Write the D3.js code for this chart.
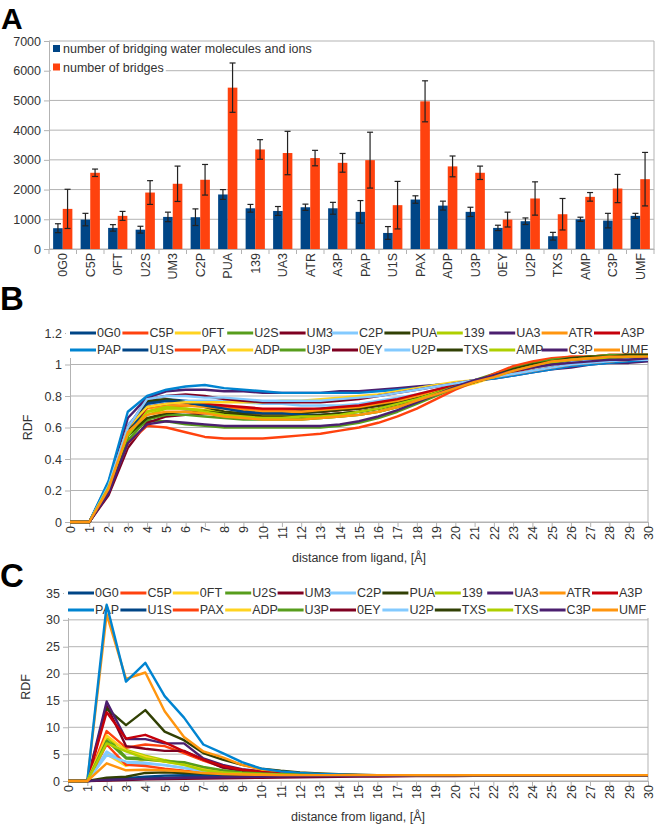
<!DOCTYPE html>
<html>
<head>
<meta charset="utf-8">
<script src="https://d3js.org/d3.v7.min.js"></script>
<style>
  body { margin: 0; background: #fff; }
  svg text { font-family: "Liberation Sans", Arial, sans-serif; fill: #333; }
  .panel-label { font-family: "Liberation Sans", Arial, sans-serif; font-weight: bold; fill: #000; }
</style>
</head>
<body>
<div id="chart"></div>
<script>
// ---- panel A data ----
const categories = ["0G0","C5P","0FT","U2S","UM3","C2P","PUA","139","UA3","ATR","A3P",
                    "PAP","U1S","PAX","ADP","U3P","0EY","U2P","TXS","AMP","C3P","UMF"];
const waterIons    = [700, 990, 710, 650, 1080, 1070, 1835, 1370, 1280, 1405, 1370,
                      1250, 540, 1665, 1460, 1250, 710, 935, 430, 1000, 955, 1115];
const waterIonsErr = [150, 210, 110, 115, 160, 280, 165, 130, 150, 105, 200,
                      380, 215, 125, 150, 155, 90, 110, 130, 70, 245, 85];
const bridges      = [1350, 2565, 1115, 1900, 2195, 2330, 5430, 3350, 3230, 3060, 2900,
                      2990, 1475, 4970, 2780, 2565, 990, 1700, 1170, 1755, 2035, 2350];
const bridgesErr   = [660, 125, 150, 400, 595, 515, 830, 330, 730, 260, 315,
                      940, 800, 690, 350, 225, 250, 560, 530, 145, 475, 900];
const yTicksA = [0, 1000, 2000, 3000, 4000, 5000, 6000, 7000];

// ---- panels B and C data ----
const distance = [0,1,2,3,4,5,6,7,8,9,10,11,12,13,14,15,16,17,18,19,20,21,22,23,24,25,26,27,28,29,30];
const seriesNames  = ["0G0","C5P","0FT","U2S","UM3","C2P","PUA","139","UA3","ATR","A3P",
                      "PAP","U1S","PAX","ADP","U3P","0EY","U2P","TXS","AMP","C3P","UMF"];
// the legend of panel C repeats "TXS" in the 20th slot
const seriesNamesC = ["0G0","C5P","0FT","U2S","UM3","C2P","PUA","139","UA3","ATR","A3P",
                      "PAP","U1S","PAX","ADP","U3P","0EY","U2P","TXS","TXS","C3P","UMF"];
const yTicksB = [0, 0.2, 0.4, 0.6, 0.8, 1, 1.2];
const yTicksC = [0, 5, 10, 15, 20, 25, 30, 35];

// RDF of water around the ligand (panel B), one row per series
const rdfB = [
  [0,0,0.22,0.58,0.76,0.78,0.77,0.75,0.73,0.72,0.71,0.71,0.71,0.72,0.73,0.74,0.76,0.78,0.80,0.83,0.86,0.89,0.92,0.95,0.98,1.00,1.02,1.03,1.04,1.04,1.05], // 0G0
  [0,0,0.20,0.55,0.70,0.73,0.74,0.74,0.73,0.72,0.71,0.71,0.70,0.70,0.71,0.72,0.74,0.76,0.79,0.82,0.86,0.89,0.93,0.97,1.01,1.03,1.05,1.05,1.06,1.06,1.06], // C5P
  [0,0,0.22,0.55,0.70,0.72,0.72,0.71,0.70,0.69,0.68,0.68,0.68,0.68,0.69,0.70,0.72,0.74,0.77,0.81,0.85,0.88,0.92,0.96,0.99,1.02,1.03,1.04,1.05,1.05,1.05], // 0FT
  [0,0,0.20,0.55,0.64,0.64,0.62,0.61,0.60,0.60,0.60,0.60,0.60,0.60,0.61,0.63,0.66,0.70,0.75,0.80,0.85,0.90,0.94,0.98,1.01,1.03,1.04,1.05,1.05,1.05,1.05], // U2S
  [0,0,0.17,0.47,0.63,0.67,0.68,0.69,0.69,0.69,0.69,0.69,0.70,0.70,0.71,0.72,0.74,0.76,0.79,0.82,0.86,0.89,0.92,0.96,0.99,1.01,1.03,1.04,1.04,1.05,1.05], // UM3
  [0,0,0.25,0.62,0.74,0.76,0.77,0.77,0.77,0.76,0.75,0.75,0.74,0.74,0.74,0.75,0.77,0.79,0.81,0.84,0.87,0.89,0.92,0.95,0.98,1.00,1.02,1.03,1.03,1.04,1.04], // C2P
  [0,0,0.20,0.57,0.77,0.78,0.76,0.73,0.70,0.69,0.69,0.69,0.69,0.70,0.71,0.72,0.74,0.76,0.79,0.82,0.86,0.89,0.92,0.96,0.99,1.02,1.04,1.05,1.05,1.06,1.06], // PUA
  [0,0,0.20,0.50,0.68,0.72,0.72,0.71,0.69,0.67,0.66,0.66,0.66,0.66,0.67,0.68,0.70,0.73,0.77,0.81,0.85,0.89,0.93,0.97,1.00,1.03,1.04,1.05,1.05,1.06,1.06], // 139
  [0,0,0.25,0.66,0.79,0.83,0.84,0.84,0.83,0.83,0.82,0.82,0.82,0.82,0.83,0.83,0.84,0.85,0.86,0.87,0.88,0.90,0.91,0.93,0.95,0.97,0.98,1.00,1.01,1.01,1.02], // UA3
  [0,0,0.22,0.60,0.72,0.74,0.74,0.73,0.72,0.71,0.70,0.70,0.70,0.71,0.72,0.73,0.75,0.77,0.80,0.83,0.86,0.89,0.92,0.95,0.98,1.01,1.03,1.04,1.04,1.05,1.05], // ATR
  [0,0,0.19,0.55,0.73,0.75,0.76,0.75,0.74,0.73,0.72,0.72,0.72,0.72,0.73,0.74,0.76,0.78,0.81,0.84,0.87,0.89,0.92,0.95,0.98,1.01,1.03,1.04,1.04,1.05,1.05], // A3P
  [0,0,0.26,0.70,0.80,0.84,0.86,0.87,0.85,0.84,0.83,0.82,0.82,0.82,0.82,0.82,0.83,0.84,0.85,0.87,0.88,0.90,0.91,0.93,0.95,0.97,0.99,1.00,1.01,1.02,1.03], // PAP
  [0,0,0.20,0.55,0.75,0.77,0.76,0.74,0.72,0.70,0.69,0.69,0.68,0.68,0.69,0.70,0.72,0.75,0.78,0.82,0.86,0.89,0.93,0.96,0.99,1.01,1.03,1.04,1.05,1.05,1.05], // U1S
  [0,0,0.20,0.50,0.61,0.60,0.57,0.54,0.53,0.53,0.53,0.54,0.55,0.56,0.58,0.60,0.63,0.67,0.72,0.78,0.84,0.89,0.94,0.99,1.02,1.04,1.05,1.05,1.06,1.06,1.06], // PAX
  [0,0,0.22,0.60,0.73,0.75,0.76,0.76,0.76,0.76,0.76,0.77,0.77,0.78,0.79,0.80,0.81,0.83,0.85,0.87,0.89,0.90,0.92,0.94,0.96,0.98,1.00,1.01,1.02,1.03,1.04], // ADP
  [0,0,0.20,0.52,0.65,0.68,0.68,0.67,0.66,0.65,0.65,0.65,0.65,0.66,0.67,0.68,0.70,0.73,0.77,0.81,0.85,0.89,0.93,0.97,1.00,1.03,1.04,1.05,1.06,1.06,1.06], // U3P
  [0,0,0.20,0.60,0.78,0.80,0.81,0.80,0.78,0.77,0.76,0.76,0.76,0.76,0.77,0.78,0.80,0.82,0.84,0.86,0.88,0.90,0.92,0.94,0.96,0.98,1.00,1.01,1.02,1.03,1.04], // 0EY
  [0,0,0.23,0.60,0.78,0.80,0.80,0.79,0.79,0.78,0.77,0.77,0.77,0.77,0.78,0.79,0.80,0.82,0.84,0.86,0.88,0.90,0.92,0.94,0.96,0.98,1.00,1.01,1.02,1.03,1.03], // U2P
  [0,0,0.20,0.55,0.66,0.69,0.70,0.70,0.69,0.68,0.67,0.67,0.67,0.68,0.69,0.70,0.72,0.75,0.78,0.82,0.86,0.89,0.93,0.97,1.00,1.02,1.04,1.05,1.05,1.06,1.06], // TXS
  [0,0,0.22,0.55,0.70,0.73,0.72,0.70,0.68,0.67,0.66,0.66,0.67,0.67,0.68,0.70,0.72,0.75,0.78,0.82,0.86,0.89,0.92,0.96,0.99,1.01,1.03,1.04,1.04,1.05,1.05], // AMP
  [0,0,0.18,0.50,0.62,0.64,0.63,0.62,0.61,0.61,0.61,0.61,0.61,0.61,0.62,0.64,0.67,0.71,0.76,0.81,0.86,0.90,0.93,0.96,0.98,1.00,1.01,1.02,1.03,1.03,1.04], // C3P
  [0,0,0.21,0.57,0.68,0.70,0.70,0.69,0.67,0.66,0.65,0.65,0.65,0.66,0.67,0.68,0.70,0.73,0.77,0.81,0.85,0.89,0.92,0.96,0.99,1.02,1.03,1.04,1.05,1.05,1.05]  // UMF
];

// RDF of ions around the ligand (panel C), one row per series
const rdfC = [
  [0,0,0.3,0.5,0.8,1.0,1.1,1.1,1.05,1.0,1.0,1.0,1.0,1.0,1.0,1.0,1.0,1.0,1.0,1.0,1.0,1.0,1.0,1.0,1.0,1.0,1.0,1.0,1.0,1.0,1.0], // 0G0
  [0,0,9.3,6.2,6.8,6.5,5.2,3.8,2.6,2.0,1.6,1.4,1.25,1.15,1.1,1.05,1.0,1.0,1.0,1.0,1.0,1.0,1.0,1.0,1.0,1.0,1.0,1.0,1.0,1.0,1.0], // C5P
  [0,0,5.0,2.8,4.0,3.6,3.2,2.4,1.9,1.6,1.4,1.25,1.15,1.1,1.05,1.0,1.0,1.0,1.0,1.0,1.0,1.0,1.0,1.0,1.0,1.0,1.0,1.0,1.0,1.0,1.0], // 0FT
  [0,0,8.2,4.4,4.3,3.7,3.4,2.4,1.9,1.6,1.4,1.25,1.15,1.1,1.05,1.0,1.0,1.0,1.0,1.0,1.0,1.0,1.0,1.0,1.0,1.0,1.0,1.0,1.0,1.0,1.0], // U2S
  [0,0,14.0,6.5,6.0,5.6,5.6,4.0,2.5,1.9,1.5,1.3,1.2,1.1,1.05,1.0,1.0,1.0,1.0,1.0,1.0,1.0,1.0,1.0,1.0,1.0,1.0,1.0,1.0,1.0,1.0], // UM3
  [0,0,5.5,3.2,3.2,3.0,2.5,1.9,1.6,1.4,1.25,1.15,1.1,1.05,1.0,1.0,1.0,1.0,1.0,1.0,1.0,1.0,1.0,1.0,1.0,1.0,1.0,1.0,1.0,1.0,1.0], // C2P
  [0,0,13.5,10.4,13.2,9.2,7.6,5.2,4.0,3.0,2.3,1.9,1.6,1.4,1.25,1.15,1.1,1.05,1.05,1.0,1.0,1.0,1.0,1.0,1.0,1.0,1.0,1.0,1.0,1.0,1.0], // PUA
  [0,0,8.0,5.8,4.7,3.9,3.2,2.2,1.8,1.5,1.3,1.2,1.1,1.05,1.0,1.0,1.0,1.0,1.0,1.0,1.0,1.0,1.0,1.0,1.0,1.0,1.0,1.0,1.0,1.0,1.0], // 139
  [0,0,14.8,7.8,7.8,7.0,7.0,4.2,3.0,2.2,1.8,1.5,1.3,1.2,1.1,1.05,1.0,1.0,1.0,1.0,1.0,1.05,1.05,1.05,1.05,1.05,1.05,1.05,1.05,1.05,1.05], // UA3
  [0,0,31.0,19.0,20.2,13.0,8.2,5.5,4.4,3.0,2.1,1.7,1.4,1.25,1.15,1.1,1.05,1.05,1.05,1.05,1.05,1.05,1.05,1.05,1.05,1.05,1.05,1.05,1.05,1.05,1.05], // ATR
  [0,0,12.8,7.9,8.6,7.2,5.5,4.0,2.8,2.1,1.7,1.4,1.25,1.15,1.1,1.05,1.0,1.0,1.0,1.0,1.0,1.0,1.0,1.0,1.0,1.0,1.0,1.0,1.0,1.0,1.0], // A3P
  [0,0,32.8,18.5,22.0,15.8,11.8,6.8,5.2,3.5,2.3,1.8,1.5,1.3,1.2,1.1,1.05,1.0,1.0,1.0,0.98,0.98,0.98,0.98,0.98,0.99,0.99,0.99,1.0,1.0,1.0], // PAP
  [0,0,0.2,0.3,0.5,0.6,0.7,0.8,0.8,0.85,0.9,0.9,0.95,0.95,0.95,1.0,1.0,1.0,1.0,1.0,1.0,1.0,1.0,1.0,1.0,1.0,1.0,1.0,1.0,1.0,1.0], // U1S
  [0,0,6.8,3.0,2.8,2.3,1.9,1.6,1.4,1.3,1.2,1.1,1.05,1.0,1.0,1.0,1.0,1.0,1.0,1.0,1.0,1.0,1.0,1.0,1.0,1.0,1.0,1.0,1.0,1.0,1.0], // PAX
  [0,0,8.5,5.6,4.5,3.6,3.0,2.3,1.8,1.5,1.3,1.2,1.1,1.05,1.0,1.0,1.0,1.0,1.0,1.0,1.0,1.0,1.0,1.0,1.0,1.0,1.0,1.0,1.0,1.0,1.0], // ADP
  [0,0,7.5,4.2,4.0,3.7,3.5,2.6,2.0,1.6,1.4,1.25,1.15,1.1,1.05,1.0,1.0,1.0,1.0,1.0,1.0,1.0,1.0,1.0,1.0,1.0,1.0,1.0,1.0,1.0,1.0], // U3P
  [0,0,0.1,0.2,0.3,0.35,0.4,0.45,0.5,0.55,0.6,0.65,0.7,0.75,0.8,0.82,0.85,0.88,0.9,0.92,0.94,0.95,0.96,0.97,0.98,0.98,0.99,0.99,1.0,1.0,1.0], // 0EY
  [0,0,4.8,3.6,3.4,2.9,2.4,1.8,1.5,1.3,1.2,1.1,1.05,1.0,1.0,1.0,1.0,1.0,1.0,1.0,1.0,1.0,1.0,1.0,1.0,1.0,1.0,1.0,1.0,1.0,1.0], // U2P
  [0,0,0.6,0.8,1.5,1.6,1.5,1.4,1.3,1.2,1.15,1.1,1.1,1.05,1.05,1.0,1.0,1.0,1.0,1.0,1.0,1.0,1.0,1.0,1.0,1.0,1.0,1.0,1.0,1.0,1.0], // TXS
  [0,0,7.0,5.5,4.2,3.6,3.0,2.0,1.6,1.4,1.25,1.15,1.1,1.05,1.0,1.0,1.0,1.0,1.0,1.0,1.0,1.0,1.0,1.0,1.0,1.0,1.0,1.0,1.0,1.0,1.0], // AMP
  [0,0,0.2,0.3,0.4,0.5,0.6,0.65,0.7,0.75,0.8,0.85,0.88,0.9,0.92,0.94,0.96,0.98,1.0,1.0,1.0,1.0,1.0,1.0,1.0,1.0,1.0,1.0,1.0,1.0,1.0], // C3P
  [0,0,3.3,2.0,2.1,2.0,1.8,1.5,1.3,1.2,1.15,1.1,1.1,1.1,1.1,1.1,1.1,1.1,1.1,1.1,1.1,1.1,1.1,1.1,1.1,1.1,1.1,1.1,1.1,1.1,1.1]  // UMF
];

// LibreOffice default palette, cycled
const palette = ["#004586","#ff420e","#ffd320","#579d1c","#7e0021","#83caff",
                 "#314004","#aecf00","#4b1f6f","#ff950e","#c5000b","#0084d1"];
const gridColor = "#b3b3b3";

const svg = d3.select("#chart").append("svg")
    .attr("width", 668)
    .attr("height", 840);

// ---------- panel A: bar chart with error bars ----------
function drawBars() {
    const left = 49, right = 654, top = 41, bottom = 249;
    const g = svg.append("g");

    g.append("text").attr("class", "panel-label")
        .attr("x", 1).attr("y", 29).attr("font-size", 30).text("A");

    const x = d3.scaleBand().domain(categories).range([left, right]);
    const xSub = d3.scaleBand().domain(["water", "bridges"])
        .range([x.bandwidth() * 0.15, x.bandwidth() * 0.85]);
    const y = d3.scaleLinear().domain([0, 7000]).range([bottom, top]);

    // 网格线
    g.append("g").selectAll("line").data(yTicksA).enter().append("line")
        .attr("x1", left).attr("x2", right)
        .attr("y1", d => y(d)).attr("y2", d => y(d))
        .attr("stroke", gridColor);
    g.append("line").attr("x1", right).attr("x2", right).attr("y1", top).attr("y2", bottom)
        .attr("stroke", gridColor);

    // y 轴
    const yAxis = g.append("g").attr("transform", `translate(${left},0)`)
        .call(d3.axisLeft(y).tickValues(yTicksA).tickSize(5).tickPadding(3).tickFormat(d3.format("d")));
    yAxis.selectAll("line, path").attr("stroke", gridColor);
    yAxis.selectAll("text").attr("font-size", 12.5).style("fill", "#333");

    // x 轴, ticks at band edges
    const edges = categories.map(c => x(c)).concat([right]);
    g.append("g").selectAll("line").data(edges).enter().append("line")
        .attr("x1", d => d).attr("x2", d => d).attr("y1", bottom).attr("y2", bottom + 5)
        .attr("stroke", gridColor);
    const xAxis = g.append("g").attr("transform", `translate(0,${bottom})`)
        .call(d3.axisBottom(x).tickSize(0));
    xAxis.select("path").attr("stroke", gridColor);
    xAxis.selectAll("text")
        .attr("font-size", 12.5).style("fill", "#333")
        .attr("transform", "rotate(-90)")
        .attr("x", -4).attr("y", 0).attr("dy", "0.35em")
        .style("text-anchor", "end");

    const rows = categories.map((c, i) => ({
        cat: c,
        bars: [
            {key: "water", value: waterIons[i], err: waterIonsErr[i], color: "#004586"},
            {key: "bridges", value: bridges[i], err: bridgesErr[i], color: "#ff420e"}
        ]
    }));

    const grp = g.selectAll(".cat").data(rows).enter().append("g")
        .attr("transform", d => `translate(${x(d.cat)},0)`);

    grp.selectAll("rect").data(d => d.bars).enter().append("rect")
        .attr("x", d => xSub(d.key))
        .attr("y", d => y(d.value))
        .attr("width", xSub.bandwidth())
        .attr("height", d => bottom - y(d.value))
        .attr("fill", d => d.color);

    // 误差线
    const eb = grp.selectAll(".err").data(d => d.bars).enter().append("g")
        .attr("transform", d => `translate(${xSub(d.key) + xSub.bandwidth() / 2},0)`)
        .attr("stroke", "#222").attr("stroke-width", 1.2);
    eb.append("line").attr("y1", d => y(d.value - d.err)).attr("y2", d => y(d.value + d.err));
    eb.append("line").attr("x1", -3).attr("x2", 3)
        .attr("y1", d => y(d.value + d.err)).attr("y2", d => y(d.value + d.err));
    eb.append("line").attr("x1", -3).attr("x2", 3)
        .attr("y1", d => y(d.value - d.err)).attr("y2", d => y(d.value - d.err));

    // 图例
    const legend = [
        {label: "number of bridging water molecules and ions", color: "#004586"},
        {label: "number of bridges", color: "#ff420e"}
    ];
    const lg = g.selectAll(".lg").data(legend).enter().append("g")
        .attr("transform", (d, i) => `translate(53,${45 + i * 18.5})`);
    lg.append("rect").attr("class", "bg").attr("x", -2).attr("y", -3).attr("height", 13).attr("fill", "#fff");
    lg.append("rect").attr("width", 7).attr("height", 7).attr("fill", d => d.color);
    lg.append("text").attr("x", 10).attr("y", 8).attr("font-size", 12.5).text(d => d.label);
    lg.each(function () {
        const w = d3.select(this).select("text").node().getComputedTextLength();
        d3.select(this).select("rect.bg").attr("width", w + 14);
    });
}

// ---------- panels B and C: RDF line charts ----------
function drawLines(opt) {
    const {left, right, top, bottom, yMax, yTicks, data, names, label, labelY} = opt;
    const g = svg.append("g");

    g.append("text").attr("class", "panel-label")
        .attr("x", 0).attr("y", labelY).attr("font-size", 33).text(label);

    const x = d3.scaleLinear().domain([0, 30]).range([left, right]);
    const y = d3.scaleLinear().domain([0, yMax]).range([bottom, top]);

    g.append("g").selectAll("line").data(yTicks).enter().append("line")
        .attr("x1", left).attr("x2", right)
        .attr("y1", d => y(d)).attr("y2", d => y(d))
        .attr("stroke", gridColor);
    g.append("line").attr("x1", right).attr("x2", right).attr("y1", top).attr("y2", bottom)
        .attr("stroke", gridColor);

    const yAxis = g.append("g").attr("transform", `translate(${left},0)`)
        .call(d3.axisLeft(y).tickValues(yTicks).tickSize(5).tickPadding(3).tickFormat(d => String(d)));
    yAxis.selectAll("line, path").attr("stroke", gridColor);
    yAxis.selectAll("text").attr("font-size", 12.5).style("fill", "#333");

    const xAxis = g.append("g").attr("transform", `translate(0,${bottom})`)
        .call(d3.axisBottom(x).tickValues(distance).tickSize(5).tickFormat(d => String(d)));
    xAxis.selectAll("line, path").attr("stroke", gridColor);
    xAxis.selectAll("text")
        .attr("font-size", 12.5).style("fill", "#333")
        .attr("transform", "rotate(-90)")
        .attr("x", -4).attr("y", 0).attr("dy", "0.35em")
        .style("text-anchor", "end");

    g.append("text")
        .attr("transform", `translate(${left - 42},${(top + bottom) / 2}) rotate(-90)`)
        .attr("text-anchor", "middle").attr("dy", "0.35em")
        .attr("font-size", 12.5).text("RDF");
    g.append("text")
        .attr("x", (left + right) / 2).attr("y", bottom + 40)
        .attr("text-anchor", "middle").attr("font-size", 12.5)
        .text("distance from ligand, [Å]");

    // 图例 (two rows of 11), drawn under the curves
    g.append("rect").attr("x", left - 4).attr("y", top - 8)
        .attr("width", right - left + 6).attr("height", 33).attr("fill", "#fff");
    const step = 52.4;
    const lg = g.selectAll(".lg").data(names).enter().append("g")
        .attr("transform", (d, i) => `translate(${left + (i % 11) * step},${top + Math.floor(i / 11) * 17})`);
    lg.append("line").attr("x1", 0).attr("x2", 26)
        .attr("stroke", (d, i) => palette[i % palette.length]).attr("stroke-width", 3);
    lg.append("text").attr("x", 27).attr("dy", "0.35em").attr("font-size", 12.5).text(d => d);

    const line = d3.line().x((d, i) => x(distance[i])).y(d => y(d));
    g.append("g").selectAll("path").data(data).enter().append("path")
        .attr("d", line)
        .attr("fill", "none")
        .attr("stroke", (d, i) => palette[i % palette.length])
        .attr("stroke-width", 2.4)
        .attr("stroke-linejoin", "round");
}

drawBars();
drawLines({left: 70, right: 648, top: 333, bottom: 522, yMax: 1.2, yTicks: yTicksB,
           data: rdfB, names: seriesNames, label: "B", labelY: 310});
drawLines({left: 68, right: 648, top: 593, bottom: 781, yMax: 35, yTicks: yTicksC,
           data: rdfC, names: seriesNamesC, label: "C", labelY: 587});
</script>
</body>
</html>
